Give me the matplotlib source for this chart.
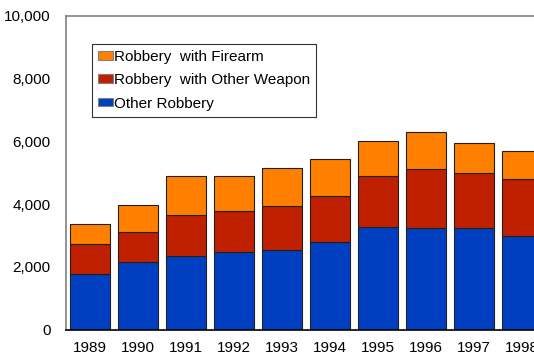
import matplotlib
matplotlib.use("Agg")
import matplotlib.pyplot as plt
import numpy as np

plt.rcParams["font.family"] = ["Liberation Sans", "DejaVu Sans"]

# Data
years = ["1989", "1990", "1991", "1992", "1993", "1994", "1995", "1996", "1997", "1998"]
other_robbery = [1770, 2140, 2360, 2470, 2530, 2780, 3270, 3240, 3240, 2990]
other_weapon = [950, 980, 1290, 1320, 1410, 1480, 1630, 1870, 1740, 1820]
firearm = [660, 850, 1250, 1100, 1225, 1170, 1110, 1200, 960, 870]

fig = plt.figure(figsize=(5.34, 3.56), dpi=100)
# axes runs past the right edge of the picture, like the original
ax = fig.add_axes([66 / 534, 1 - 329.5 / 356, 480 / 534, 313.5 / 356])

x = np.arange(len(years))
w = 0.85
edge = dict(edgecolor="#202020", linewidth=0.8)
b1 = ax.bar(x, other_robbery, w, color="#0040C0", label="Other Robbery", **edge)
bottom2 = np.array(other_robbery)
b2 = ax.bar(x, other_weapon, w, bottom=bottom2, color="#BF2000",
            label="Robbery  with Other Weapon", **edge)
bottom3 = bottom2 + np.array(other_weapon)
b3 = ax.bar(x, firearm, w, bottom=bottom3, color="#FF8000",
            label="Robbery  with Firearm", **edge)

ax.set_xlim(-0.5, len(years) - 0.5)
ax.set_ylim(0, 10000)
ax.set_yticks(range(0, 10001, 2000))
ax.set_yticklabels([f"{v:,}" for v in range(0, 10001, 2000)])
ax.set_xticks(x)
ax.set_xticklabels(years)
ax.tick_params(axis="both", length=0, labelsize=11, colors="#000000")
ax.tick_params(axis="y", pad=11)
ax.tick_params(axis="x", pad=8)

for s in ["top", "left", "right"]:
    ax.spines[s].set_color("#808080")
    ax.spines[s].set_linewidth(1.2)
ax.spines["bottom"].set_color("black")
ax.spines["bottom"].set_linewidth(1.2)

leg = fig.legend(handles=[b3, b2, b1], loc="upper left",
                 bbox_to_anchor=(92 / 534, 1 - 43.5 / 356),
                 fontsize=11, frameon=True, fancybox=False,
                 handlelength=1.0, handleheight=0.5, handletextpad=0.05,
                 borderpad=0.4, labelspacing=0.62, borderaxespad=0)
leg.get_frame().set_edgecolor("black")
leg.get_frame().set_linewidth(0.8)
for h in leg.legend_handles:
    h.set_edgecolor("#808080")

fig.savefig("out.png", dpi=100)
